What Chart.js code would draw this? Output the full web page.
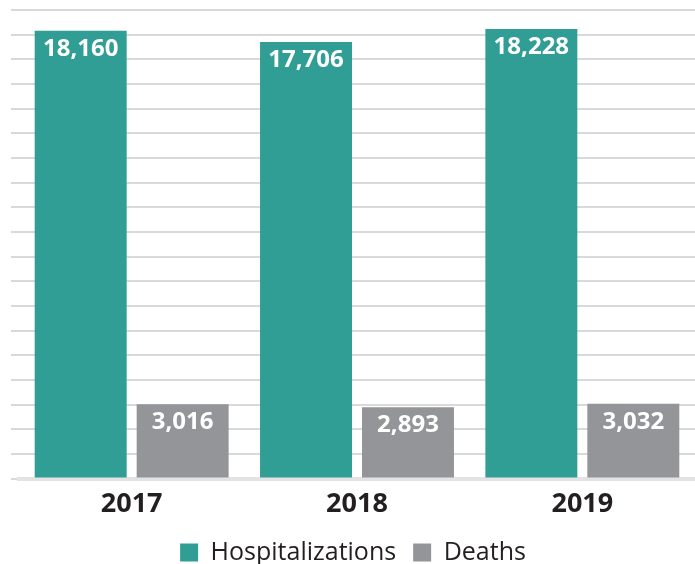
<!DOCTYPE html>
<html>
<head>
<meta charset="utf-8">
<script src="https://cdn.jsdelivr.net/npm/chart.js@4/dist/chart.umd.min.js"></script>
<style>
  html, body { margin: 0; padding: 0; background: #fff; }
  #chart { display: block; }
</style>
</head>
<body>
<canvas id="chart" width="695" height="564"></canvas>
<script>
var years = ['2017', '2018', '2019'];
var hospitalizations = [18160, 17706, 18228];
var deaths = [3016, 2893, 3032];

// writes the value inside the top of each bar
var barLabels = {
    id: 'barLabels',
    afterDatasetsDraw: function (chart) {
        var ctx = chart.ctx;
        ctx.save();
        ctx.fillStyle = '#ffffff';
        ctx.font = 'bold 24px "Open Sans"';
        ctx.textAlign = 'center';
        ctx.textBaseline = 'middle';
        chart.data.datasets.forEach(function (ds, i) {
            chart.getDatasetMeta(i).data.forEach(function (bar, j) {
                ctx.fillText(ds.data[j].toLocaleString('en-US'), bar.x, bar.y + 18);
            });
        });
        ctx.restore();
    }
};

new Chart('chart', {
    type: 'bar',
    data: {
        labels: years,
        datasets: [{
            label: 'Hospitalizations',
            data: hospitalizations,
            backgroundColor: '#319e95'
        }, {
            label: 'Deaths',
            data: deaths,
            backgroundColor: '#939598'
        }]
    },
    options: {
        responsive: false,
        animation: false,
        layout: { padding: { left: 11, right: 0, top: 10, bottom: -11 } },
        categoryPercentage: 0.905,
        barPercentage: 0.902,
        plugins: {
            legend: {
                position: 'bottom',
                labels: {
                    boxWidth: 18,
                    boxHeight: 18,
                    padding: 17,
                    color: '#231f20',
                    font: { family: '"Open Sans"', size: 25 }
                }
            },
            tooltip: { enabled: false }
        },
        scales: {
            x: {
                grid: { display: false },
                border: { color: '#e3e3e5', width: 4 },
                ticks: {
                    color: '#231f20',
                    padding: 2,
                    font: { family: '"Open Sans"', weight: 'bold', size: 27 }
                }
            },
            y: {
                min: 0,
                max: 19000,
                ticks: { stepSize: 1000, display: false },
                grid: { color: '#d9d9d9', lineWidth: 2, tickLength: 8 },
                border: { display: false }
            }
        }
    },
    plugins: [barLabels]
});
</script>
</body>
</html>
